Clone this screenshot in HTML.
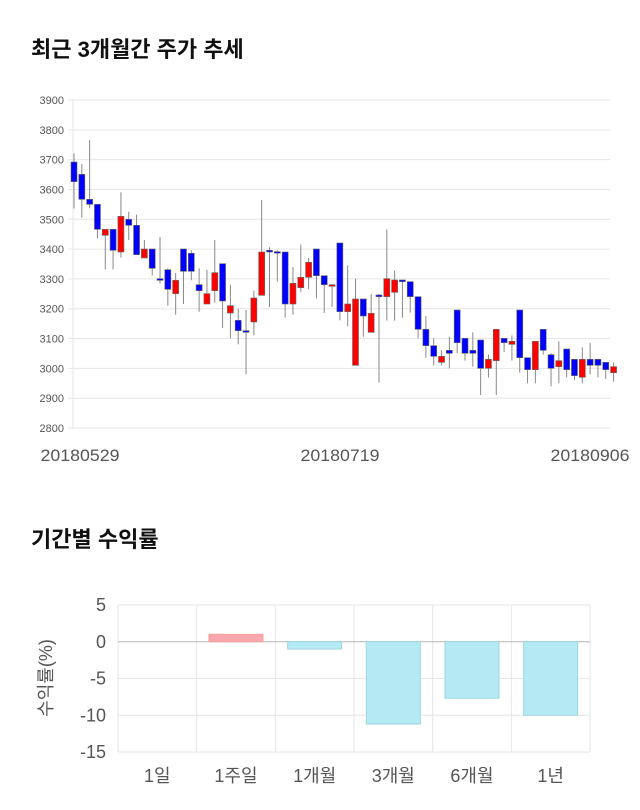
<!DOCTYPE html>
<html><head><meta charset="utf-8"><style>
body{margin:0;background:#fff;width:640px;height:810px;overflow:hidden;font-family:"Liberation Sans","Noto Sans CJK KR",sans-serif}
.t{position:absolute;left:31px;font-size:22px;font-weight:bold;color:#111}
</style></head><body>
<div class="t" style="top:32px">최근 3개월간 주가 추세</div>
<div class="t" style="top:522px">기간별 수익률</div>
<svg id="s" width="640" height="810" style="position:absolute;left:0;top:0"></svg>
<script>
var s='';
for(var i=0;i<=11;i++){var y=100+i*29.82;s+='<line x1="68" x2="610" y1="'+y+'" y2="'+y+'" stroke="#e6e6e6"/>';
s+='<text x="64" y="'+(y+4)+'" font-size="11" fill="#555" text-anchor="end">'+(3900-i*100)+'</text>';}
s+='<line x1="73" x2="73" y1="100" y2="428" stroke="#e6e6e6"/>';
var c=[["b",216,275,190,355],["b",253,328,222,383],["b",328,343,150,355],["b",343,418,343,445],["r",418,436,418,538],["b",418,481,418,538],["r",379,486,307,503],["b",388,406,365,450],["b",406,494,374,494],["r",477,504,450,504],["b",477,535,477,557],["b",566,571,441,580],["b",539,598,535,647],["r",571,611,549,674],["b",477,544,477,642],["b",490,544,481,571],["b",584,602,535,665],["r",611,642,540,642],["r",548,602,450,638],["b",521,633,521,714],["r",647,669,584,745],["b",691,722,656,763],["b",722,727,660,853],["r",624,696,602,736],["r",486,616,330,616],["b",481,486,472,651],["b",485,488,481,575],["b",486,642,486,683],["r",580,642,531,674],["r",562,593,464,606],["r",517,562,504,597],["b",477,557,477,625],["b",557,584,557,669],["r",584,589,584,651],["b",459,665,459,691],["r",642,665,526,709]];
var c2=[["r",357,556,296,556],["b",357,408,357,470],["r",400,457,342,457],["b",345,350,342,608],["r",296,350,148,422],["r",300,337,272,422],["b",300,305,300,413],["b",305,350,305,398],["b",350,448,350,475],["b",448,497,408,533],["b",497,529,475,556],["r",529,547,511,556],["b",511,520,470,565],["b",390,488,390,520],["b",475,520,475,542],["b",511,520,457,560],["b",480,565,480,645],["r",538,565,524,592],["r",448,542,448,645],["b",475,488,475,516],["r",484,493,466,542],["b",390,533,390,578],["b",533,569,533,610],["r",484,569,484,610],["b",448,511,448,524],["b",524,565,520,619],["r",542,560,484,610],["b",507,569,507,592],["b",538,587,538,601],["r",538,592,502,610],["b",538,556,489,583],["b",538,556,538,592],["b",547,569,547,597],["r",560,578,547,605]];
function dr(d,off,i){var x=74+7.82*i;var bt=d[1]/3+off,bb=d[2]/3+off,wt=d[3]/3+off,wb=d[4]/3+off;
s+='<line x1="'+x+'" x2="'+x+'" y1="'+wt+'" y2="'+wb+'" stroke="#888" stroke-width="1"/>';
s+='<rect x="'+(x-3)+'" y="'+bt+'" width="6" height="'+Math.max(bb-bt,1.5)+'" fill="'+(d[0]=="b"?"#0000ff":"#ff0000")+'" stroke="#666" stroke-width="0.6"/>';}
c.forEach(function(d,i){dr(d,90,i)});c2.forEach(function(d,i){dr(d,180,i+36)});
[["20180529",80],["20180719",340],["20180906",590]].forEach(function(a){s+='<text x="'+a[1]+'" y="461" font-size="17" fill="#555" text-anchor="middle" textLength="79" lengthAdjust="spacingAndGlyphs">'+a[0]+'</text>'});
for(var k=0;k<5;k++){var y=605+k*36.75;s+='<line x1="118" x2="590" y1="'+y+'" y2="'+y+'" stroke="#e6e6e6"/>';
s+='<text x="106" y="'+(y+6)+'" font-size="18" fill="#555" text-anchor="end">'+(5-k*5)+'</text>';}
for(var k=0;k<=6;k++){var x=118+k*78.67;s+='<line x1="'+x+'" x2="'+x+'" y1="605" y2="752" stroke="#e6e6e6"/>';}
s+='<line x1="118" x2="590" y1="641.7" y2="641.7" stroke="#bbb"/>';
var v=[0,1,-1,-11.2,-7.7,-10],L=["1일","1주일","1개월","3개월","6개월","1년"];
for(var k=0;k<6;k++){var x=118+k*78.67,cx=x+39.3;var y0=641.7,y1=641.7-v[k]*7.35;
if(v[k]!=0)s+='<rect x="'+(cx-27)+'" y="'+Math.min(y0,y1)+'" width="54" height="'+Math.abs(y1-y0)+'" fill="'+(v[k]>0?"#f9a7aa":"#b3eaf4")+'" stroke="'+(v[k]>0?"#f3a0a3":"#9ed6e0")+'"/>';
s+='<text x="'+cx+'" y="782" font-size="18" fill="#555" text-anchor="middle">'+L[k]+'</text>';}
s+='<text transform="translate(52,678) rotate(-90)" font-size="18" fill="#555" text-anchor="middle">수익률(%)</text>';
document.getElementById('s').innerHTML=s;
</script>
</body></html>
